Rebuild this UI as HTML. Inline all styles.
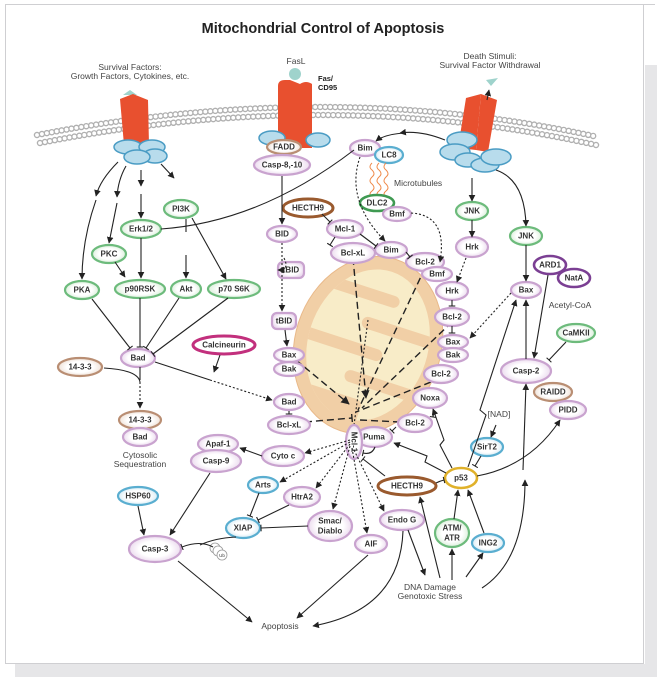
<!DOCTYPE html>
<html><head><meta charset="utf-8"><style>
html,body{margin:0;padding:0;background:#fff;}
svg{display:block;font-family:"Liberation Sans",Arial,sans-serif;}
.n{font-size:8px;font-weight:bold;fill:#333;text-anchor:middle;dominant-baseline:central;}
.t{font-size:8.5px;fill:#444;text-anchor:middle;}
.p{fill:url(#gp);stroke:#c9a3cf;stroke-width:2.2}
.g{fill:url(#gg);stroke:#6dbb7c;stroke-width:2.2}
.b{fill:url(#gb);stroke:#5aaed0;stroke-width:2.2}
.br{fill:url(#gbr);stroke:#b98e73;stroke-width:2.2}
.hb{fill:#fff;stroke:#9a5a2e;stroke-width:3}
.m{fill:#fff;stroke:#c2307d;stroke-width:3}
.dp{fill:#fff;stroke:#7b3f93;stroke-width:2.6}
.y{fill:#fff;stroke:#e0b12a;stroke-width:2.6}
.dg{fill:#fff;stroke:#3f9a52;stroke-width:2.6}
.l{fill:none;stroke:#222;stroke-width:1.1}
.d{fill:none;stroke:#222;stroke-width:1.1;stroke-dasharray:2 2}
.k{fill:none;stroke:#222;stroke-width:1.4;stroke-dasharray:7 4}
.bl{fill:#b8dcec;stroke:#4a9cc4;stroke-width:1.5}
</style></head><body>
<svg width="668" height="685" viewBox="0 0 668 685" xmlns="http://www.w3.org/2000/svg">
<defs>
<radialGradient id="gp"><stop offset="0.6" stop-color="#fff"/><stop offset="1" stop-color="#ecdcef"/></radialGradient>
<radialGradient id="gg"><stop offset="0.6" stop-color="#fff"/><stop offset="1" stop-color="#dcefdc"/></radialGradient>
<radialGradient id="gb"><stop offset="0.6" stop-color="#fff"/><stop offset="1" stop-color="#d8ecf5"/></radialGradient>
<radialGradient id="gbr"><stop offset="0.6" stop-color="#fff"/><stop offset="1" stop-color="#efe2d8"/></radialGradient>
<marker id="a" viewBox="0 0 10 10" refX="9" refY="5" markerWidth="6" markerHeight="6" orient="auto"><path d="M0,0L10,5L0,10z" fill="#222"/></marker>
<marker id="i" viewBox="0 0 4 10" refX="2" refY="5" markerWidth="4" markerHeight="6" orient="auto"><path d="M2,0V10" stroke="#222" stroke-width="1.6"/></marker>
<clipPath id="mc"><ellipse cx="368" cy="345" rx="60" ry="77"/></clipPath>
</defs>
<!-- frame -->
<rect x="645" y="65" width="12" height="612" fill="#e6e6e8"/>
<rect x="15" y="664" width="642" height="13" fill="#e6e6e8"/>
<rect x="5.5" y="4.5" width="638" height="659" fill="#fff" stroke="#cfcfd2"/>
<line x1="643" y1="4.5" x2="655" y2="4.5" stroke="#cfcfd2"/>
<text x="323" y="33" font-size="14.5" font-weight="bold" fill="#222" text-anchor="middle">Mitochondrial Control of Apoptosis</text>
<text class="t" x="130" y="70">Survival Factors:</text>
<text class="t" x="130" y="79">Growth Factors, Cytokines, etc.</text>
<text class="t" x="296" y="64">FasL</text>
<text class="t" x="490" y="59">Death Stimuli:</text>
<text class="t" x="490" y="68">Survival Factor Withdrawal</text>
<!-- membrane -->
<g fill="none" stroke-linecap="round">
<path d="M37,135 Q330,78 598,137" stroke="#b0b0b0" stroke-width="6.5" stroke-dasharray="0 5"/>
<path d="M37,135 Q330,78 598,137" stroke="#fff" stroke-width="3.8" stroke-dasharray="0 5"/>
<path d="M40,143 Q330,86 596,145" stroke="#b0b0b0" stroke-width="6.5" stroke-dasharray="0 5"/>
<path d="M40,143 Q330,86 596,145" stroke="#fff" stroke-width="3.8" stroke-dasharray="0 5"/>
</g>
<!-- left receptor -->
<polygon points="123,95 130,90 137,95" fill="#9fd3cc"/>
<path d="M120,99 L133,94 L133,145 L124,145 Z" fill="#e8502f"/>
<path d="M133,94 L148,100 L149,145 L133,145 Z" fill="#e8502f"/>
<ellipse class="bl" cx="128" cy="147" rx="14" ry="7"/><ellipse class="bl" cx="152" cy="147" rx="13" ry="7"/>
<ellipse class="bl" cx="155" cy="156" rx="12" ry="7"/><ellipse class="bl" cx="137" cy="157" rx="13" ry="7"/>
<!-- Fas receptor -->
<circle cx="295" cy="74" r="6" fill="#9fd3cc"/>
<path d="M278,86 Q278,80 285,80 L290,80 L290,146 L278,146Z" fill="#e8502f"/>
<path d="M290,80 L300,84 L300,148 L290,148Z" fill="#e8502f"/>
<path d="M300,84 Q306,80 312,84 L312,148 L300,148Z" fill="#e8502f"/>
<text x="318" y="81" font-size="7.5" font-weight="bold" fill="#222">Fas/</text>
<text x="318" y="90" font-size="7.5" font-weight="bold" fill="#222">CD95</text>
<ellipse class="bl" cx="272" cy="138" rx="13" ry="7"/><ellipse class="bl" cx="318" cy="140" rx="12" ry="7"/>
<ellipse class="br" cx="284" cy="147" rx="17" ry="7"/><text class="n" x="284" y="147">FADD</text>
<ellipse class="p" cx="282" cy="165" rx="28" ry="10"/><text class="n" x="282" y="165">Casp-8,-10</text>
<!-- death receptor -->
<polygon points="486,80 498,78 491,86" fill="#9fd3cc"/>
<path d="M466,98 L481,94 L476,150 L458,148Z" fill="#e8502f"/>
<path d="M481,94 L497,100 L488,152 L476,150Z" fill="#e8502f"/>
<path class="l" d="M487,100 L489,90" marker-end="url(#a)"/>
<ellipse class="bl" cx="462" cy="140" rx="15" ry="8"/><ellipse class="bl" cx="455" cy="152" rx="15" ry="8"/>
<ellipse class="bl" cx="468" cy="160" rx="13" ry="7"/><ellipse class="bl" cx="485" cy="165" rx="14" ry="7"/><ellipse class="bl" cx="496" cy="157" rx="15" ry="8"/>
<!-- mitochondrion -->
<g transform="rotate(18 368 345)">
<ellipse cx="368" cy="345" rx="73" ry="90" fill="#f1cfa6" stroke="#e9b98a" stroke-width="1"/>
<ellipse cx="368" cy="345" rx="60" ry="77" fill="#f8ecc8"/>
<g clip-path="url(#mc)" fill="#f1cfa6">
<rect x="300" y="290" width="85" height="12" rx="6"/>
<rect x="355" y="318" width="90" height="12" rx="6"/>
<rect x="300" y="346" width="85" height="12" rx="6"/>
<rect x="355" y="374" width="90" height="12" rx="6"/>
<rect x="300" y="400" width="80" height="30" rx="6"/>
</g>
</g>
<!-- dashed lines in mito -->
<g class="k">
<path d="M353,258 L366,398" marker-end="url(#a)"/>
<path d="M425,268 L358,410"/>
<path d="M452,322 L362,408"/>
<path d="M441,378 L356,412"/>
<path d="M296,360 L349,404" marker-end="url(#a)"/>
<path d="M305,422 L352,418" marker-end="url(#i)"/>
<path d="M400,422 L360,420"/>
</g>
<path class="d" d="M368,320 L352,440"/>
<!-- nodes -->
<ellipse class="g" cx="181" cy="209" rx="17" ry="9"/><text class="n" x="181" y="209">PI3K</text>
<ellipse class="g" cx="141" cy="229" rx="20" ry="9"/><text class="n" x="141" y="229">Erk1/2</text>
<ellipse class="g" cx="109" cy="254" rx="17" ry="9"/><text class="n" x="109" y="254">PKC</text>
<ellipse class="g" cx="82" cy="290" rx="17" ry="9"/><text class="n" x="82" y="290">PKA</text>
<ellipse class="g" cx="140" cy="289" rx="25" ry="9"/><text class="n" x="140" y="289">p90RSK</text>
<ellipse class="g" cx="186" cy="289" rx="15" ry="9"/><text class="n" x="186" y="289">Akt</text>
<ellipse class="g" cx="234" cy="289" rx="26" ry="9"/><text class="n" x="234" y="289">p70 S6K</text>
<ellipse class="m" cx="224" cy="345" rx="31" ry="9"/><text class="n" x="224" y="345">Calcineurin</text>
<ellipse class="p" cx="138" cy="358" rx="17" ry="9"/><text class="n" x="138" y="358">Bad</text>
<ellipse class="br" cx="80" cy="367" rx="22" ry="9"/><text class="n" x="80" y="367">14-3-3</text>
<ellipse class="br" cx="140" cy="420" rx="21" ry="9"/><text class="n" x="140" y="420">14-3-3</text>
<ellipse class="p" cx="140" cy="437" rx="17" ry="9"/><text class="n" x="140" y="437">Bad</text>
<text class="t" x="140" y="458">Cytosolic</text><text class="t" x="140" y="467">Sequestration</text>
<ellipse class="hb" cx="308" cy="208" rx="25" ry="9"/><text class="n" x="308" y="208">HECTH9</text>
<ellipse class="p" cx="282" cy="234" rx="15" ry="8"/><text class="n" x="282" y="234">BID</text>
<rect x="278" y="262" width="26" height="16" rx="5" class="p"/><text class="n" x="291" y="270">tBID</text>
<rect x="272" y="313" width="24" height="16" rx="5" class="p"/><text class="n" x="284" y="321">tBID</text>
<ellipse class="p" cx="289" cy="355" rx="15" ry="7"/><text class="n" x="289" y="355">Bax</text>
<ellipse class="p" cx="289" cy="369" rx="15" ry="7"/><text class="n" x="289" y="369">Bak</text>
<ellipse class="p" cx="289" cy="402" rx="15" ry="8"/><text class="n" x="289" y="402">Bad</text>
<ellipse class="p" cx="289" cy="425" rx="21" ry="9"/><text class="n" x="289" y="425">Bcl-xL</text>
<ellipse class="p" cx="365" cy="148" rx="15" ry="8"/><text class="n" x="365" y="148">Bim</text>
<ellipse class="b" cx="389" cy="155" rx="14" ry="8"/><text class="n" x="389" y="155">LC8</text>
<path d="M372,163 q-4,4 0,7 q4,4 0,7 q-4,4 0,7 q4,4 0,7 q-4,3 0,6 M379,163 q-4,4 0,7 q4,4 0,7 q-4,4 0,7 q4,4 0,7 q-4,3 0,6 M386,163 q-4,4 0,7 q4,4 0,7 q-4,4 0,7 q4,4 0,7 q-4,3 0,6" fill="none" stroke="#ef8a4a" stroke-width="1"/>
<text x="394" y="186" font-size="8.5" fill="#444">Microtubules</text>
<ellipse class="dg" cx="377" cy="203" rx="17" ry="8"/><text class="n" x="377" y="203">DLC2</text>
<ellipse class="p" cx="397" cy="214" rx="14" ry="7"/><text class="n" x="397" y="214">Bmf</text>
<ellipse class="p" cx="345" cy="229" rx="18" ry="9"/><text class="n" x="345" y="229">Mcl-1</text>
<ellipse class="p" cx="353" cy="253" rx="22" ry="10"/><text class="n" x="353" y="253">Bcl-xL</text>
<ellipse class="p" cx="391" cy="250" rx="16" ry="8"/><text class="n" x="391" y="250">Bim</text>
<ellipse class="p" cx="425" cy="262" rx="19" ry="9"/><text class="n" x="425" y="262">Bcl-2</text>
<ellipse class="p" cx="437" cy="274" rx="15" ry="7"/><text class="n" x="437" y="274">Bmf</text>
<ellipse class="p" cx="452" cy="291" rx="16" ry="9"/><text class="n" x="452" y="291">Hrk</text>
<ellipse class="p" cx="452" cy="317" rx="17" ry="9"/><text class="n" x="452" y="317">Bcl-2</text>
<ellipse class="p" cx="453" cy="342" rx="15" ry="7"/><text class="n" x="453" y="342">Bax</text>
<ellipse class="p" cx="453" cy="355" rx="15" ry="7"/><text class="n" x="453" y="355">Bak</text>
<ellipse class="p" cx="441" cy="374" rx="17" ry="9"/><text class="n" x="441" y="374">Bcl-2</text>
<ellipse class="p" cx="430" cy="398" rx="17" ry="10"/><text class="n" x="430" y="398">Noxa</text>
<ellipse class="p" cx="415" cy="423" rx="17" ry="9"/><text class="n" x="415" y="423">Bcl-2</text>
<ellipse class="p" cx="374" cy="437" rx="18" ry="10"/><text class="n" x="374" y="437">Puma</text>
<ellipse class="p" cx="354" cy="442" rx="8" ry="17"/><text class="n" x="354" y="442" transform="rotate(90 354 442)">Mcl-1</text>
<ellipse class="g" cx="472" cy="211" rx="16" ry="9"/><text class="n" x="472" y="211">JNK</text>
<ellipse class="p" cx="472" cy="247" rx="16" ry="10"/><text class="n" x="472" y="247">Hrk</text>
<ellipse class="g" cx="526" cy="236" rx="16" ry="9"/><text class="n" x="526" y="236">JNK</text>
<ellipse class="dp" cx="550" cy="265" rx="16" ry="9"/><text class="n" x="550" y="265">ARD1</text>
<ellipse class="dp" cx="574" cy="278" rx="16" ry="9"/><text class="n" x="574" y="278">NatA</text>
<ellipse class="p" cx="526" cy="290" rx="15" ry="8"/><text class="n" x="526" y="290">Bax</text>
<text class="t" x="570" y="308">Acetyl-CoA</text>
<ellipse class="g" cx="576" cy="333" rx="19" ry="9"/><text class="n" x="576" y="333">CaMKII</text>
<ellipse class="p" cx="526" cy="371" rx="25" ry="12"/><text class="n" x="526" y="371">Casp-2</text>
<ellipse class="br" cx="553" cy="392" rx="19" ry="9"/><text class="n" x="553" y="392">RAIDD</text>
<ellipse class="p" cx="568" cy="410" rx="18" ry="9"/><text class="n" x="568" y="410">PIDD</text>
<text class="t" x="499" y="417">[NAD]</text>
<ellipse class="b" cx="487" cy="447" rx="16" ry="9"/><text class="n" x="487" y="447">SirT2</text>
<ellipse class="y" cx="461" cy="478" rx="16" ry="10"/><text class="n" x="461" y="478">p53</text>
<ellipse class="hb" cx="407" cy="486" rx="29" ry="9"/><text class="n" x="407" y="486">HECTH9</text>
<ellipse class="p" cx="402" cy="520" rx="22" ry="10"/><text class="n" x="402" y="520">Endo G</text>
<ellipse class="g" cx="452" cy="533" rx="17" ry="14"/><text class="n" x="452" y="528">ATM/</text><text class="n" x="452" y="538">ATR</text>
<ellipse class="b" cx="488" cy="543" rx="16" ry="9"/><text class="n" x="488" y="543">ING2</text>
<ellipse class="p" cx="371" cy="544" rx="16" ry="9"/><text class="n" x="371" y="544">AIF</text>
<text class="t" x="430" y="590">DNA Damage</text><text class="t" x="430" y="599">Genotoxic Stress</text>
<ellipse class="p" cx="283" cy="456" rx="21" ry="10"/><text class="n" x="283" y="456">Cyto c</text>
<ellipse class="p" cx="218" cy="444" rx="20" ry="9"/><text class="n" x="218" y="444">Apaf-1</text>
<ellipse class="p" cx="216" cy="461" rx="25" ry="11"/><text class="n" x="216" y="461">Casp-9</text>
<ellipse class="b" cx="138" cy="496" rx="20" ry="9"/><text class="n" x="138" y="496">HSP60</text>
<ellipse class="b" cx="263" cy="485" rx="15" ry="8"/><text class="n" x="263" y="485">Arts</text>
<ellipse class="p" cx="302" cy="497" rx="18" ry="10"/><text class="n" x="302" y="497">HtrA2</text>
<ellipse class="b" cx="243" cy="528" rx="17" ry="10"/><text class="n" x="243" y="528">XIAP</text>
<ellipse class="p" cx="330" cy="526" rx="22" ry="15"/><text class="n" x="330" y="521">Smac/</text><text class="n" x="330" y="531">Diablo</text>
<ellipse class="p" cx="155" cy="549" rx="26" ry="13"/><text class="n" x="155" y="549">Casp-3</text>
<circle cx="215" cy="548" r="5" fill="#fff" stroke="#999" stroke-width="0.8"/><circle cx="218" cy="551" r="5" fill="#fff" stroke="#999" stroke-width="0.8"/><circle cx="222" cy="555" r="5" fill="#fff" stroke="#999" stroke-width="0.8"/><text x="222" y="557" font-size="4.5" text-anchor="middle" fill="#333">Ub</text>
<text class="t" x="280" y="629" font-size="9">Apoptosis</text>
<!-- left edges -->
<path class="l" d="M118,162 Q100,180 96,196" marker-end="url(#a)"/>
<path class="l" d="M96,200 Q82,240 82,279" marker-end="url(#a)"/>
<path class="l" d="M126,166 Q118,180 117,197" marker-end="url(#a)"/>
<path class="l" d="M117,203 L109,243" marker-end="url(#a)"/>
<path class="l" d="M141,170 L141,186" marker-end="url(#a)"/>
<path class="l" d="M141,194 L141,218" marker-end="url(#a)"/>
<path class="l" d="M161,164 L174,178" marker-end="url(#a)"/>
<path class="l" d="M141,238 L141,278" marker-end="url(#a)"/>
<path class="l" d="M115,262 L125,277" marker-end="url(#a)"/>
<path class="l" d="M186,219 L186,232 M186,255 L186,278" marker-end="url(#a)"/>
<path class="l" d="M192,218 L226,279" marker-end="url(#a)"/>
<path class="l" d="M161,229 Q260,222 354,150"/>
<path class="l" d="M92,299 L130,348" marker-end="url(#i)"/>
<path class="l" d="M140,298 L140,347" marker-end="url(#i)"/>
<path class="l" d="M179,298 L146,348" marker-end="url(#i)"/>
<path class="l" d="M228,298 L153,354" marker-end="url(#i)"/>
<path class="l" d="M104,368 Q138,370 140,382"/>
<path class="l" d="M140,367 L140,380"/>
<path class="d" d="M140,382 L140,408" marker-end="url(#a)"/>
<path class="l" d="M155,362 L210,380"/>
<path class="d" d="M210,380 L272,400" marker-end="url(#a)"/>
<path class="l" d="M220,355 L214,372" marker-end="url(#a)"/>
<path class="l" d="M282,176 L282,224" marker-end="url(#a)"/>
<path class="d" d="M284,258 Q290,270 278,270" marker-end="url(#a)"/>
<path class="d" d="M282,243 L282,311" marker-end="url(#a)"/>
<path class="l" d="M285,330 L287,346" marker-end="url(#a)"/>
<path class="l" d="M289,411 L289,414" marker-end="url(#i)"/>
<path class="l" d="M322,214 L330,222" marker-end="url(#i)"/>
<path class="l" d="M335,237 L330,245" marker-end="url(#i)"/>
<path class="l" d="M360,234 L376,246" marker-end="url(#i)"/>
<path class="l" d="M406,252 L410,257" marker-end="url(#i)"/>
<path class="d" d="M360,157 Q345,200 385,241" marker-end="url(#a)"/>
<path class="d" d="M411,213 Q448,215 440,262" marker-end="url(#a)"/>
<!-- right top -->
<path class="l" d="M445,140 Q420,130 400,133" marker-end="url(#a)"/>
<path class="l" d="M405,133 Q385,134 376,141" marker-end="url(#a)"/>
<path class="l" d="M472,178 L472,201" marker-end="url(#a)"/>
<path class="l" d="M472,220 L472,237" marker-end="url(#a)"/>
<path class="d" d="M466,258 L457,282" marker-end="url(#a)"/>
<path class="l" d="M452,300 L452,306" marker-end="url(#i)"/>
<path class="l" d="M452,326 L452,333" marker-end="url(#i)"/>
<path class="l" d="M496,170 Q525,180 526,226" marker-end="url(#a)"/>
<path class="l" d="M526,245 L526,281" marker-end="url(#a)"/>
<path class="d" d="M511,293 L470,338" marker-end="url(#a)"/>
<path class="l" d="M548,275 L534,358" marker-end="url(#a)"/>
<path class="l" d="M566,342 L549,360" marker-end="url(#i)"/>
<path class="l" d="M526,359 L526,300" marker-end="url(#a)"/>
<path class="l" d="M523,470 L526,384" marker-end="url(#a)"/>
<path class="l" d="M468,467 L486,415 L480,410 L516,300" marker-end="url(#a)"/>
<path class="l" d="M477,476 Q530,466 560,420" marker-end="url(#a)"/>
<path class="l" d="M496,425 L491,437" marker-end="url(#a)"/>
<path class="l" d="M481,456 L475,466" marker-end="url(#i)"/>
<path class="l" d="M452,468 L440,445 L444,440 L433,409" marker-end="url(#a)"/>
<path class="l" d="M446,473 L425,462 L427,456 L394,443" marker-end="url(#a)"/>
<path class="l" d="M436,483 Q440,481 444,480" marker-end="url(#i)"/>
<path class="l" d="M434,410 L433,417" marker-end="url(#i)"/>
<path class="l" d="M385,476 L363,459" marker-end="url(#i)"/>
<path class="l" d="M375,447 Q372,455 363,453" marker-end="url(#i)"/>
<path class="l" d="M396,427 L392,431" marker-end="url(#i)"/>
<path class="l" d="M454,519 L458,490" marker-end="url(#a)"/>
<path class="l" d="M484,533 L468,490" marker-end="url(#a)"/>
<path class="l" d="M452,580 L452,549" marker-end="url(#a)"/>
<path class="l" d="M466,577 L483,553" marker-end="url(#a)"/>
<path class="l" d="M440,578 L420,497" marker-end="url(#a)"/>
<path class="l" d="M408,530 L425,575" marker-end="url(#a)"/>
<path class="l" d="M482,588 Q525,560 525,480" marker-end="url(#a)"/>
<!-- release from mito -->
<g class="d">
<path d="M350,440 L305,453" marker-end="url(#a)"/>
<path d="M350,442 L280,482" marker-end="url(#a)"/>
<path d="M350,444 L316,488" marker-end="url(#a)"/>
<path d="M350,446 L333,509" marker-end="url(#a)"/>
<path d="M352,448 L367,533" marker-end="url(#a)"/>
<path d="M354,450 L384,511" marker-end="url(#a)"/>
</g>
<path class="l" d="M262,456 L240,448" marker-end="url(#a)"/>
<path class="l" d="M210,473 L170,535" marker-end="url(#a)"/>
<path class="l" d="M138,506 L144,535" marker-end="url(#a)"/>
<path class="l" d="M259,493 L250,516" marker-end="url(#i)"/>
<path class="l" d="M289,505 L258,520" marker-end="url(#i)"/>
<path class="l" d="M308,526 L261,528" marker-end="url(#i)"/>
<path class="l" d="M213,547 Q200,540 182,547" marker-end="url(#i)"/>
<path class="l" d="M236,537 Q215,538 200,545"/>
<path class="l" d="M178,561 L252,622" marker-end="url(#a)"/>
<path class="l" d="M368,555 L297,618" marker-end="url(#a)"/>
<path class="l" d="M403,531 Q400,610 313,626" marker-end="url(#a)"/>
</svg>
</body></html>
